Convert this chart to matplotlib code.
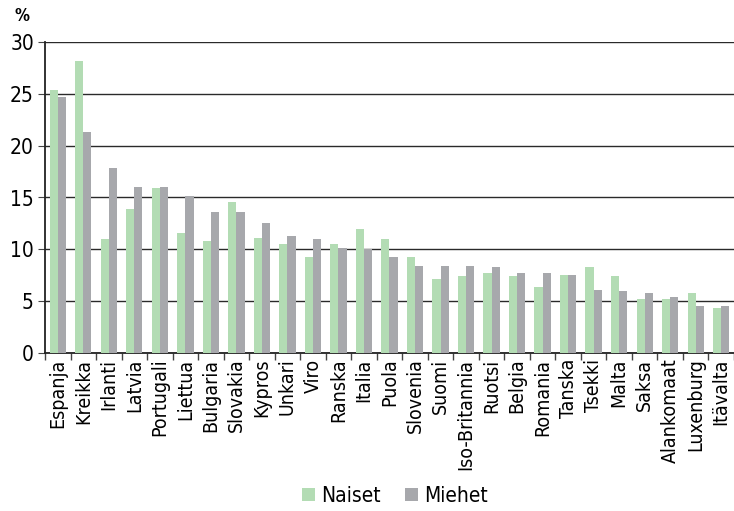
import matplotlib
matplotlib.use("Agg")
import matplotlib.pyplot as plt
import numpy as np

maat = ['Espanja', 'Kreikka', 'Irlanti', 'Latvia', 'Portugali', 'Liettua',
        'Bulgaria', 'Slovakia', 'Kypros', 'Unkari', 'Viro', 'Ranska', 'Italia',
        'Puola', 'Slovenia', 'Suomi', 'Iso-Britannia', 'Ruotsi', 'Belgia',
        'Romania', 'Tanska', 'Tsekki', 'Malta', 'Saksa', 'Alankomaat',
        'Luxenburg', 'Itävalta']
naiset = [25.4, 28.2, 11.0, 13.9, 15.9, 11.6, 10.8, 14.6, 11.1, 10.5, 9.3,
          10.5, 12.0, 11.0, 9.3, 7.1, 7.4, 7.7, 7.4, 6.4, 7.5, 8.3, 7.4, 5.2,
          5.2, 5.8, 4.3]
miehet = [24.7, 21.3, 17.8, 16.0, 16.0, 15.1, 13.6, 13.6, 12.5, 11.3, 11.0,
          10.1, 10.0, 9.3, 8.4, 8.4, 8.4, 8.3, 7.7, 7.7, 7.5, 6.1, 6.0, 5.8,
          5.4, 4.5, 4.5]

plt.rcParams['font.family'] = ['DejaVu Sans']
plt.rcParams['font.stretch'] = 'condensed'

fig = plt.figure(figsize=(7.34, 5.11), dpi=100)
ax = fig.add_axes([45/734, 1-353/511, 1-45/734, (353-42)/511])

x = np.arange(len(maat))
w = 0.32
ax.bar(x - w/2, naiset, w, color='#b3dcb4', label='Naiset', zorder=3)
ax.bar(x + w/2, miehet, w, color='#a7a8ac', label='Miehet', zorder=3)

ax.set_xlim(-0.5, len(maat) - 0.5)
ax.set_ylim(0, 30)
ax.set_yticks(range(0, 31, 5))
ax.yaxis.grid(True, color='#2a2a2a', linewidth=1.0)
ax.set_axisbelow(True)
for s in ['top', 'right']:
    ax.spines[s].set_visible(False)
ax.spines['left'].set_color('#222222')
ax.spines['bottom'].set_color('#222222')
ax.spines['left'].set_linewidth(1.3)
ax.spines['bottom'].set_linewidth(1.3)

ax.set_xticks(x)
ax.set_xticklabels(maat, rotation=90, fontsize=14)
ax.tick_params(axis='x', length=0, pad=4)
ax.set_xticks(np.arange(-0.5, len(maat), 1), minor=True)
ax.tick_params(axis='x', which='minor', length=5, color='#444444', width=1)
ax.tick_params(axis='y', labelsize=15, length=5, color='#444444', pad=3)

fig.text(22/734, 1-16/511, '%', fontsize=12, fontweight='bold',
         ha='center', va='center')

fig.legend(loc='center', bbox_to_anchor=(395/734, 1-496/511), ncol=2,
           frameon=False, fontsize=15, handlelength=0.6, handleheight=0.6,
           handletextpad=0.3, columnspacing=1.2, borderpad=0)

fig.savefig('out.png', dpi=100)
